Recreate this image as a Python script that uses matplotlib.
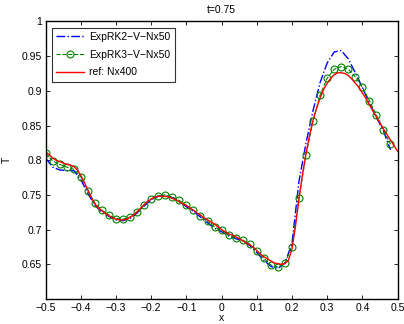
import numpy as np
import matplotlib
matplotlib.use("Agg")
import matplotlib.pyplot as plt

plt.rcParams['font.family'] = ['Liberation Sans', 'DejaVu Sans']

title = "t=0.75"
xlabel = "x"
ylabel = "T"
labels = ["ExpRK2\u2212V\u2212Nx50", "ExpRK3\u2212V\u2212Nx50", "ref: Nx400"]

x50 = [-0.50, -0.48, -0.46, -0.44, -0.42, -0.40, -0.38, -0.36, -0.34, -0.32,
       -0.30, -0.28, -0.26, -0.24, -0.22, -0.20, -0.18, -0.16, -0.14, -0.12,
       -0.10, -0.08, -0.06, -0.04, -0.02, 0.00, 0.02, 0.04, 0.06, 0.08,
       0.10, 0.12, 0.14, 0.16, 0.18, 0.20, 0.22, 0.24, 0.26, 0.28,
       0.30, 0.32, 0.34, 0.36, 0.38, 0.40, 0.42, 0.44, 0.46, 0.48]

rk2 = [0.803, 0.790, 0.786, 0.785, 0.785, 0.772, 0.752, 0.735, 0.725, 0.719,
       0.714, 0.713, 0.716, 0.724, 0.734, 0.743, 0.748, 0.749, 0.746, 0.740,
       0.733, 0.726, 0.718, 0.710, 0.702, 0.697, 0.691, 0.687, 0.684, 0.677,
       0.667, 0.656, 0.647, 0.644, 0.652, 0.680, 0.770, 0.825, 0.872, 0.912,
       0.940, 0.956, 0.958, 0.946, 0.926, 0.905, 0.882, 0.862, 0.842, 0.815]

rk3 = [0.810, 0.799, 0.794, 0.790, 0.787, 0.776, 0.756, 0.738, 0.728, 0.721,
       0.716, 0.715, 0.718, 0.725, 0.735, 0.744, 0.749, 0.750, 0.747, 0.742,
       0.735, 0.728, 0.720, 0.712, 0.704, 0.699, 0.692, 0.688, 0.685, 0.679,
       0.669, 0.659, 0.649, 0.646, 0.652, 0.675, 0.746, 0.808, 0.857, 0.894,
       0.918, 0.931, 0.935, 0.931, 0.920, 0.905, 0.886, 0.865, 0.844, 0.823]

x_ref = [-0.50, -0.49, -0.48, -0.47, -0.46, -0.45, -0.44, -0.43, -0.42, -0.41,
         -0.40, -0.39, -0.38, -0.37, -0.36, -0.35, -0.34, -0.33, -0.32, -0.31,
         -0.30, -0.29, -0.28, -0.27, -0.26, -0.25, -0.24, -0.23, -0.22, -0.21,
         -0.20, -0.19, -0.18, -0.17, -0.16, -0.15, -0.14, -0.13, -0.12, -0.11,
         -0.10, -0.09, -0.08, -0.07, -0.06, -0.05, -0.04, -0.03, -0.02, -0.01,
         0.00, 0.01, 0.02, 0.03, 0.04, 0.05, 0.06, 0.07, 0.08, 0.09,
         0.10, 0.11, 0.12, 0.13, 0.14, 0.15, 0.16, 0.17, 0.18, 0.19,
         0.20, 0.21, 0.22, 0.23, 0.24, 0.25, 0.26, 0.27, 0.28, 0.29,
         0.30, 0.31, 0.32, 0.33, 0.34, 0.35, 0.36, 0.37, 0.38, 0.39,
         0.40, 0.41, 0.42, 0.43, 0.44, 0.45, 0.46, 0.47, 0.48, 0.49, 0.50]

ref = [0.812, 0.808, 0.803, 0.800, 0.798, 0.796, 0.794, 0.793, 0.791, 0.786,
       0.778, 0.768, 0.757, 0.746, 0.737, 0.731, 0.727, 0.723, 0.720, 0.717,
       0.715, 0.714, 0.714, 0.715, 0.718, 0.721, 0.726, 0.731, 0.736, 0.741,
       0.744, 0.747, 0.748, 0.748, 0.748, 0.747, 0.745, 0.743, 0.740, 0.737,
       0.735, 0.731, 0.728, 0.724, 0.721, 0.717, 0.714, 0.711, 0.708, 0.704,
       0.700, 0.697, 0.694, 0.692, 0.690, 0.687, 0.684, 0.681, 0.678, 0.675,
       0.670, 0.665, 0.661, 0.658, 0.655, 0.652, 0.651, 0.650, 0.651, 0.656,
       0.672, 0.705, 0.745, 0.780, 0.810, 0.836, 0.858, 0.875, 0.890, 0.902,
       0.911, 0.918, 0.923, 0.926, 0.926, 0.925, 0.922, 0.917, 0.911, 0.905,
       0.897, 0.889, 0.880, 0.871, 0.862, 0.854, 0.845, 0.837, 0.829, 0.821, 0.813]

xticks = [-0.5, -0.4, -0.3, -0.2, -0.1, 0, 0.1, 0.2, 0.3, 0.4, 0.5]
xticklabels = ["\u22120.5", "\u22120.4", "\u22120.3", "\u22120.2", "\u22120.1",
               "0", "0.1", "0.2", "0.3", "0.4", "0.5"]
yticks = [0.65, 0.7, 0.75, 0.8, 0.85, 0.9, 0.95, 1.0]
yticklabels = ["0.65", "0.7", "0.75", "0.8", "0.85", "0.9", "0.95", "1"]

fig = plt.figure(figsize=(4.04, 3.24), dpi=100)
ax = fig.add_axes([0.113, 0.077, 0.871, 0.857])

ax.plot(x50, rk2, linestyle='-.', color=(0, 0, 1), lw=1.0, label=labels[0])
ax.plot(x50, rk3, linestyle='--', color=(0, 0.5, 0), lw=0.8, marker='o',
        markersize=5, markerfacecolor='none', markeredgewidth=0.8, label=labels[1])
ax.plot(x_ref, ref, linestyle='-', color=(1, 0, 0), lw=1.0, label=labels[2])

ax.set_xlim(-0.5, 0.5)
ax.set_ylim(0.6, 1.0)
ax.set_xticks(xticks)
ax.set_xticklabels(xticklabels)
ax.set_yticks(yticks)
ax.set_yticklabels(yticklabels)
ax.tick_params(direction='in', top=True, right=True, labelsize=7.5, length=3,
               width=0.6, pad=2.5)
for s in ax.spines.values():
    s.set_linewidth(1.0)
ax.set_title(title, fontsize=7.5, pad=6)
ax.set_xlabel(xlabel, fontsize=7.5, labelpad=0)
ax.set_ylabel(ylabel, fontsize=7.5, labelpad=7)

leg = ax.legend(loc='upper left', fontsize=7.5, frameon=True, fancybox=False,
                edgecolor='black', borderaxespad=0.6, handlelength=2.7,
                handletextpad=0.5, labelspacing=0.75, borderpad=0.4)
leg.get_frame().set_linewidth(0.8)

fig.savefig("out.png", dpi=100)
